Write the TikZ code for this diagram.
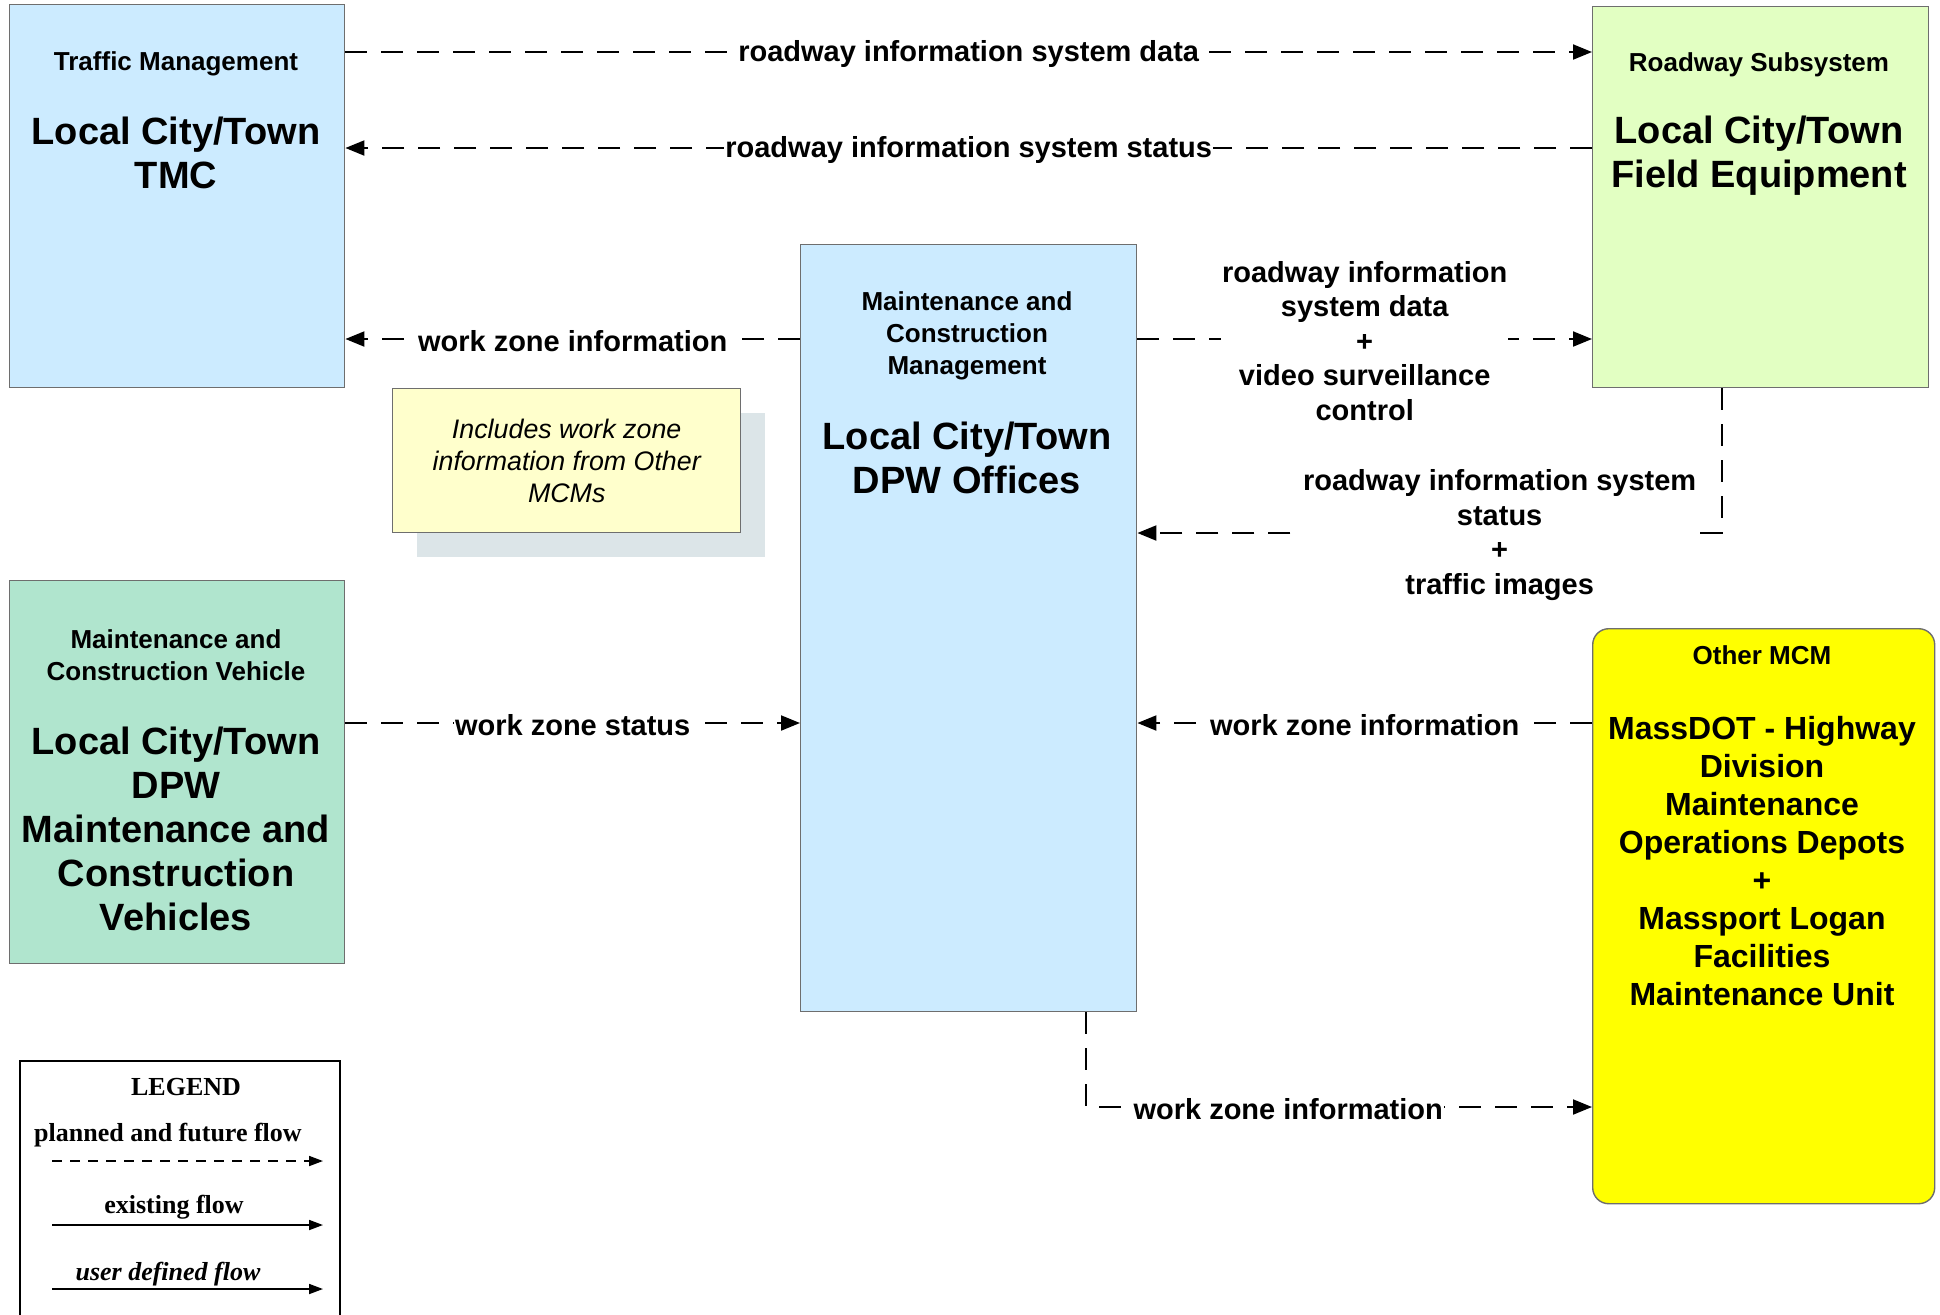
\documentclass[tikz,border=0pt]{standalone}
\usepackage{fontspec}
\setmainfont{Liberation Sans}
\newfontfamily\legendfont{Liberation Serif}
\usetikzlibrary{arrows.meta,positioning,shadows}

\definecolor{tmcblue}{RGB}{204,235,255}
\definecolor{fieldgreen}{RGB}{226,255,194}
\definecolor{vehiclegreen}{RGB}{176,229,206}
\definecolor{mcmyellow}{RGB}{255,255,0}
\definecolor{notefill}{RGB}{255,255,204}
\definecolor{noteshade}{RGB}{220,229,232}
\definecolor{boxline}{RGB}{110,110,110}

\tikzset{
  block/.style={draw=boxline, line width=0.7pt, anchor=north west, inner sep=0pt},
  roletext/.style={font=\bfseries\fontsize{13}{16}\selectfont, align=center, inner sep=0pt},
  nametext/.style={font=\bfseries\fontsize{19}{22}\selectfont, align=center, inner sep=0pt},
  mcmtext/.style={font=\bfseries\fontsize{16}{19}\selectfont, align=center, inner sep=0pt},
  flow/.style={line width=1pt, dash pattern=on 11pt off 7pt, -{Triangle[length=9.5pt,width=7.5pt]}},
  flowlabel/.style={font=\bfseries\fontsize{14.5}{17.3}\selectfont, align=center, fill=white, inner sep=0.5pt, yshift=-1pt},
  legendtext/.style={font=\legendfont\bfseries\fontsize{13}{15}\selectfont, inner sep=0pt},
  legendflow/.style={line width=0.9pt, -{Triangle[length=7pt,width=5pt]}}
}

\begin{document}
\begin{tikzpicture}[x=0.5pt, y=-0.5pt]
    \useasboundingbox (0,0) rectangle (1940,1314);
    \clip (0,0) rectangle (1940,1314);

    % Boites principales
    \node [block, fill=tmcblue, minimum width=167.5pt, minimum height=191.5pt] (tmc) at (9,4) {};
    \node [block, fill=fieldgreen, minimum width=168pt, minimum height=190.5pt] (field) at (1592,6) {};
    \node [block, fill=tmcblue, minimum width=168pt, minimum height=383.5pt] (dpw) at (800,244) {};
    \node [block, fill=vehiclegreen, minimum width=167.5pt, minimum height=191.5pt] (mcv) at (9,580) {};
    \node [block, fill=mcmyellow, rounded corners=8pt, minimum width=171pt, minimum height=287.5pt] (mcm) at (1592,628) {};

    % Note
    \node [block, fill=notefill, minimum width=174pt, minimum height=72pt,
           drop shadow={shadow xshift=12pt, shadow yshift=-12pt, fill=noteshade, opacity=1},
           font=\itshape\fontsize{13.4}{16}\selectfont, align=center] (note) at (392,388)
          {Includes work zone\\information from Other\\MCMs};

    % Textes des boites
    \node [roletext] (tmcrole) at (176,64) {Traffic Management};
    \node [nametext] (tmcname) at (176,153) {Local City/Town\\TMC};
    \node [roletext] (fieldrole) at (1759,65) {Roadway Subsystem};
    \node [nametext] (fieldname) at (1759,156) {Local City/Town\\Field Equipment};
    \node [roletext] (dpwrole) at (967,336) {Maintenance and\\Construction\\Management};
    \node [nametext] (dpwname) at (967,458) {Local City/Town\\DPW Offices};
    \node [roletext] (mcvrole) at (176,655) {Maintenance and\\Construction Vehicle};
    \node [nametext] (mcvname) at (176,829) {Local City/Town\\DPW\\Maintenance and\\Construction\\Vehicles};
    \node [roletext] (mcmrole) at (1762,655) {Other MCM};
    \node [mcmtext] (mcmname) at (1762,861) {MassDOT - Highway\\Division\\Maintenance\\Operations Depots\\+\\Massport Logan\\Facilities\\Maintenance Unit};

    % Flux
    \draw [flow] (tmc.east |- 0,52) -- node [flowlabel] (risdata) {roadway information system data} (field.west |- 0,52);
    \draw [flow] (field.west |- 0,148) -- node [flowlabel] (risstatus) {roadway information system status} (tmc.east |- 0,148);
    \draw [flow] (dpw.west |- 0,339) -- node [flowlabel] (wzinfotmc) {work zone information} (tmc.east |- 0,339);
    \draw [flow] (dpw.east |- 0,339) -- node [flowlabel] (risvideo) {roadway information\\system data\\+\\video surveillance\\control} (field.west |- 0,339);
    \draw [flow] ([xshift=-19.5pt]field.south) |- node [flowlabel, pos=0.69] (risimages) {roadway information system\\status\\+\\traffic images} (dpw.east |- 0,533);
    \draw [flow] (mcv.east |- 0,723) -- node [flowlabel] (wzstatus) {work zone status} (dpw.west |- 0,723);
    \draw [flow] (mcm.west |- 0,723) -- node [flowlabel] (wzinfompm) {work zone information} (dpw.east |- 0,723);
    \draw [flow] ([xshift=58.5pt]dpw.south) |- node [flowlabel, pos=0.7] (wzinfomcm) {work zone information} (mcm.west |- 0,1107);

    % Legende
    \node [draw, line width=1.2pt, anchor=north west, minimum width=160pt, minimum height=150pt] (legend) at (19,1060) {};
    \node [legendtext] (legendtitle) at (186,1087) {LEGEND};
    \node [legendtext] (plannedlbl) at (168,1135) {planned and future flow};
    \coordinate (planned-a) at (52,1161);
    \coordinate (planned-b) at (323,1161);
    \draw [legendflow, dash pattern=on 5pt off 4pt] (planned-a) -- (planned-b);
    \node [legendtext] (existinglbl) at (174,1207) {existing flow};
    \coordinate (existing-a) at (52,1225);
    \coordinate (existing-b) at (323,1225);
    \draw [legendflow] (existing-a) -- (existing-b);
    \node [legendtext, font=\legendfont\bfseries\itshape\fontsize{13}{15}\selectfont] (userlbl) at (168,1274) {user defined flow};
    \coordinate (user-a) at (52,1289);
    \coordinate (user-b) at (323,1289);
    \draw [legendflow] (user-a) -- (user-b);
\end{tikzpicture}
\end{document}
